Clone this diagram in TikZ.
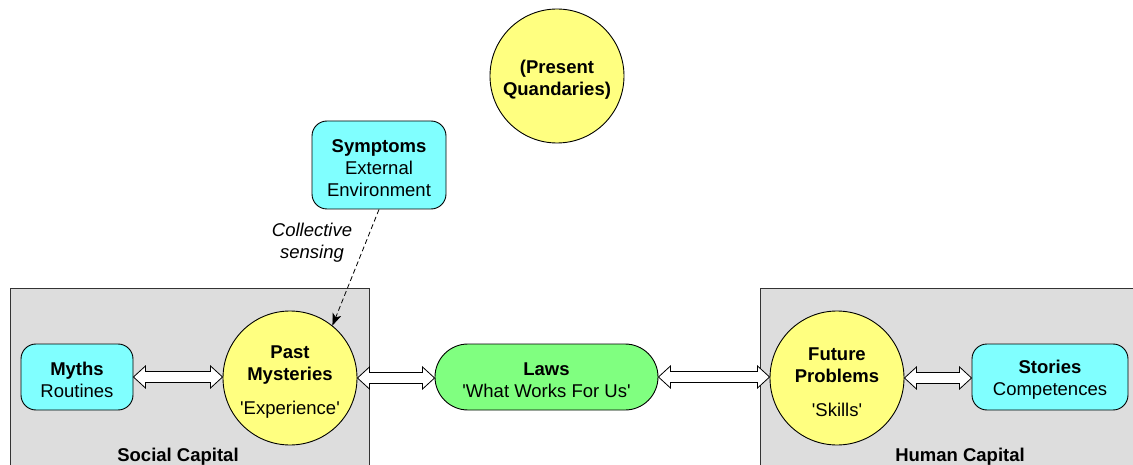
\documentclass[tikz,border=0pt]{standalone}
\usepackage{fontspec}
\setmainfont{Liberation Sans}
\usetikzlibrary{arrows.meta,calc}
\definecolor{cyanfill}{HTML}{80FFFF}
\definecolor{yellowfill}{HTML}{FFFF80}
\definecolor{greenfill}{HTML}{80FF80}
\definecolor{grayfill}{HTML}{DDDDDD}
\newcommand{\q}{\textquotesingle}
\newcommand{\tstrut}{\rule{0pt}{21pt}}
\newcommand{\bstrut}{\rule{0pt}{18.5pt}}
\newcommand{\fatarrow}[2]{%
  \path[fatarrowstyle] let \p1=(#1.east), \p2=(#2.west) in
    (\x1,\y1) -- (\x1+12pt,\y1+11pt) -- (\x1+12pt,\y1+5.5pt) -- (\x2-12pt,\y1+5.5pt)
    -- (\x2-12pt,\y1+11pt) -- (\x2,\y1) -- (\x2-12pt,\y1-11pt) -- (\x2-12pt,\y1-5.5pt)
    -- (\x1+12pt,\y1-5.5pt) -- (\x1+12pt,\y1-11pt) -- cycle;}
\tikzset{
  base/.style={font=\fontsize{18.5}{22}\selectfont, align=center, inner sep=0pt, line width=0.9pt},
  capbox/.style={draw=black!80, fill=grayfill, line width=0.9pt, inner sep=0pt, anchor=north west},
  caplabel/.style={base, font=\fontsize{18.5}{22}\selectfont\bfseries},
  cyanbox/.style={base, draw, fill=cyanfill, rounded corners=15pt, minimum height=66pt},
  circ/.style={base, draw, fill=yellowfill, circle, minimum size=134pt},
  lawsbox/.style={base, draw, fill=greenfill, rounded corners=33pt, minimum width=223pt, minimum height=66pt},
  fatarrowstyle/.style={draw=black, fill=white, line width=0.8pt, line join=miter},
  sensing/.style={draw, dashed, dash pattern=on 5pt off 3pt, line width=0.8pt, -{Stealth[length=12pt,width=9pt,inset=3pt]}},
  senselabel/.style={base, font=\fontsize{18.5}{22}\selectfont\itshape}
}
\begin{document}
\begin{tikzpicture}[x=1pt,y=-1pt]
\useasboundingbox (0,0) rectangle (1133,465);
% capital regions
\node[capbox, minimum width=359pt, minimum height=200pt] (social) at (10,288) {};
\node[capbox, minimum width=400pt, minimum height=200pt] (human) at (760,288) {};
\node[caplabel] (sociallabel) at (178,457) {Social Capital};
\node[caplabel] (humanlabel) at (960,457) {Human Capital};
% nodes
\node[circ] (present) at (557,76) {\tstrut\textbf{(Present}\\\textbf{Quandaries)}};
\node[cyanbox, minimum width=134pt, minimum height=88pt] (sym) at (379,165) {\bstrut\textbf{Symptoms}\\External\\Environment};
\node[cyanbox, minimum width=112pt] (myths) at (77,377) {\bstrut\textbf{Myths}\\Routines};
\node[circ] (past) at (290,378) {\tstrut\textbf{Past}\\\textbf{Mysteries}\\[12pt]\q Experience\q};
\node[lawsbox] (laws) at (546.5,377) {\bstrut\textbf{Laws}\\\q What Works For Us\q};
\node[circ] (future) at (837,378) {\tstrut\textbf{Future}\\\textbf{Problems}\\[12pt]\q Skills\q};
\node[cyanbox, minimum width=156pt] (stories) at (1050,377) {\bstrut\textbf{Stories}\\Competences};
% connectors
\fatarrow{myths}{past}
\fatarrow{past}{laws}
\fatarrow{laws}{future}
\fatarrow{future}{stories}
\draw[sensing] (sym.south) -- (past.51);
\node[senselabel] (senselbl) at (312,243) {Collective\\sensing};
\end{tikzpicture}
\end{document}
